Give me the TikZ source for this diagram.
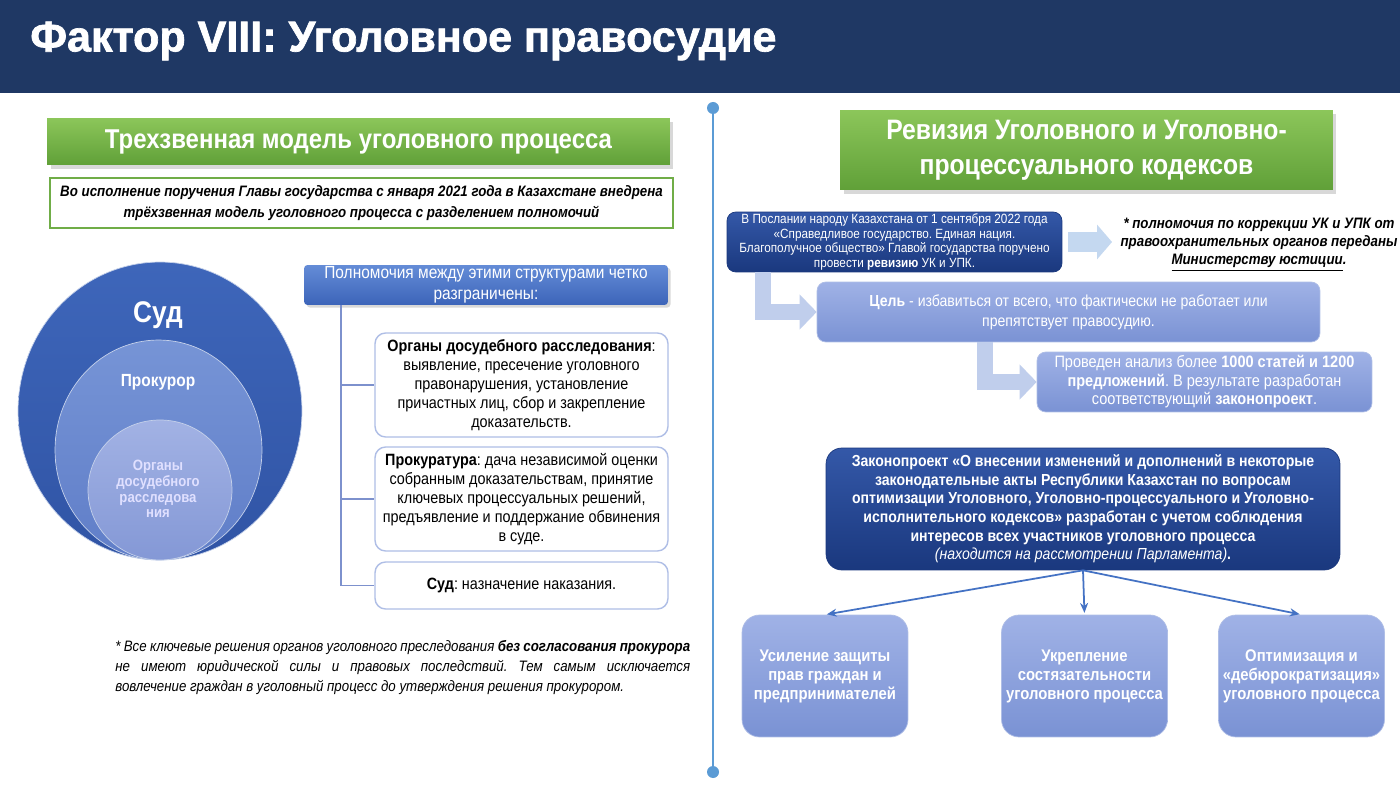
\documentclass[tikz,border=0pt]{standalone}
\usepackage{fontspec}
\setmainfont{Liberation Sans}[FakeStretch=0.88]
\newfontfamily\titlefont{Liberation Sans}[BoldFeatures={FakeBold=1.6}]
\usepackage{tikz}
\usetikzlibrary{shapes.geometric, arrows.meta, positioning, shadows, calc}
\definecolor{navyHead}{RGB}{31, 56, 100}
\definecolor{greenTop}{RGB}{140, 198, 90}
\definecolor{greenBot}{RGB}{96, 160, 56}
\definecolor{greenLine}{RGB}{112, 173, 71}
\definecolor{blueTop}{RGB}{100, 140, 215}
\definecolor{blueBot}{RGB}{60, 100, 185}
\definecolor{darkTop}{RGB}{52, 88, 168}
\definecolor{darkBot}{RGB}{26, 56, 126}
\definecolor{lavTop}{RGB}{160, 178, 230}
\definecolor{lavBot}{RGB}{122, 146, 212}
\definecolor{lavLine}{RGB}{175, 190, 230}
\definecolor{arrowLight}{RGB}{192, 206, 236}
\definecolor{skyLight}{RGB}{196, 216, 240}
\definecolor{linkBlue}{RGB}{68, 114, 196}
\definecolor{dividerBlue}{RGB}{91, 155, 213}
\definecolor{treeLine}{RGB}{125, 145, 205}
\definecolor{ringOut}{RGB}{62, 102, 186}
\definecolor{ringOutDk}{RGB}{48, 84, 165}
\definecolor{ringMid}{RGB}{118, 148, 214}
\definecolor{ringMidDk}{RGB}{96, 126, 200}
\definecolor{ringIn}{RGB}{162, 178, 228}
\definecolor{ringInDk}{RGB}{132, 152, 214}
\frenchspacing

\begin{document}
\begin{tikzpicture}[x=0.02cm, y=-0.02cm,
  banner/.style={rectangle, top color=greenTop, bottom color=greenBot,
    text=white, align=center, inner sep=0pt,
    drop shadow={opacity=0.3, shadow xshift=2pt, shadow yshift=-2pt}},
  introbox/.style={rectangle, draw=greenLine, line width=0.8pt, fill=white,
    align=center, inner sep=0pt, minimum width=12.46cm, minimum height=1cm,
    font=\bfseries\itshape\fontsize{8.6}{11.8}\selectfont},
  ring/.style={ellipse, inner sep=0pt, draw=white!70!ringOut, line width=0.4pt},
  ringlbl/.style={text=white, align=center, inner sep=0pt},
  powbox/.style={rectangle, rounded corners=2pt, top color=blueTop,
    bottom color=blueBot, text=white, align=center, inner sep=0pt,
    font=\fontsize{10}{11.9}\selectfont,
    drop shadow={opacity=0.3, shadow xshift=1.5pt, shadow yshift=-1.5pt}},
  item/.style={rectangle, rounded corners=6pt, draw=lavLine, line width=0.8pt,
    fill=white, align=center, inner sep=0pt, minimum width=5.86cm,
    font=\fontsize{9.3}{10.8}\selectfont},
  tree/.style={draw=treeLine, line width=0.9pt},
  darkbox/.style={rectangle, top color=darkTop, bottom color=darkBot,
    draw=darkBot, text=white, align=center, inner sep=0pt},
  lavbox/.style={rectangle, top color=lavTop, bottom color=lavBot,
    draw=lavLine, text=white, align=center, inner sep=0pt},
  aim/.style={lavbox, rounded corners=10pt, minimum width=3.32cm,
    minimum height=2.44cm, font=\bfseries\fontsize{9.6}{10.8}\selectfont},
  elbow/.style={draw=arrowLight, line width=0.32cm,
    -{Triangle[length=0.34cm, width=0.68cm]}},
  pass/.style={draw=skyLight, line width=0.4cm, shorten <=0.12cm,
    -{Triangle[length=0.3cm, width=0.68cm]}},
  link/.style={draw=linkBlue, line width=1pt, shorten >=1pt,
    -{Stealth[length=2mm, width=1.6mm]}},
  dot/.style={circle, fill=dividerBlue, inner sep=0pt, minimum size=0.24cm},
]
\useasboundingbox (0,0) rectangle (1400,787);
\fill[white] (0,0) rectangle (1400,787);

% header
\fill[navyHead] (0,0) rectangle (1400,93);
\node[anchor=west, text=white, inner sep=0pt,
  font=\titlefont\bfseries\fontsize{24.5}{27}\selectfont] (title) at (30,41)
  {Фактор VIII: Уголовное правосудие};

% divider
\node[dot] (divTop) at (713,108) {};
\node[dot] (divBot) at (713,772) {};
\draw[dividerBlue, line width=1.4pt] (divTop) -- (divBot);

% left column
\node[banner, minimum width=12.46cm, minimum height=0.94cm,
  font=\bfseries\fontsize{15.5}{19}\selectfont] (leftBar) at (358.5,141.5)
  {Трехзвенная модель уголовного процесса};
\node[introbox] (intro) at (361.5,203)
  {Во исполнение поручения Главы государства с января 2021 года в Казахстане внедрена\\
   трёхзвенная модель уголовного процесса с разделением полномочий};

\node[ring, minimum width=5.68cm, minimum height=5.96cm,
  top color=ringOut, bottom color=ringOutDk] (court) at (160,411) {};
\node[ring, minimum width=4.14cm, minimum height=4.4cm,
  top color=ringMid, bottom color=ringMidDk] (prosecutor) at (158.5,450) {};
\node[ring, minimum width=2.88cm, minimum height=2.8cm,
  top color=ringIn, bottom color=ringInDk] (bodies) at (160,490) {};
\node[ringlbl, font=\bfseries\fontsize{17}{20}\selectfont] (courtLbl) at (158,315) {Суд};
\node[ringlbl, font=\bfseries\fontsize{10}{12}\selectfont] (prosLbl) at (158,382) {Прокурор};
\node[ringlbl, text=white!88!blue, font=\bfseries\fontsize{8.5}{9}\selectfont]
  (bodiesLbl) at (158,489) {Органы\\досудебного\\расследова\\ния};

\node[powbox, minimum width=7.28cm, minimum height=0.8cm] (powers) at (486,285)
  {Полномочия между этими структурами четко\\разграничены:};
\node[item, minimum height=2.08cm] (inv) at (521.5,385)
  {\textbf{Органы досудебного расследования}:\\выявление, пресечение уголовного\\
   правонарушения, установление\\причастных лиц, сбор и закрепление\\доказательств.};
\node[item, minimum height=2.08cm] (pros) at (521.5,499)
  {\textbf{Прокуратура}: дача независимой оценки\\собранным доказательствам, принятие\\
   ключевых процессуальных решений,\\предъявление и поддержание обвинения\\в суде.};
\node[item, minimum height=0.94cm] (judge) at (521.5,585.5)
  {\textbf{Суд}: назначение наказания.};

\coordinate (trunk) at (341,0);
\draw[tree] (powers.south -| trunk) |- (judge.west);
\draw[tree] (trunk |- inv.west) -- (inv.west);
\draw[tree] (trunk |- pros.west) -- (pros.west);

\node[anchor=north west, inner sep=0pt, text width=11.5cm, align=justify,
  font=\itshape\fontsize{8.6}{11.3}\selectfont] (noteLeft) at (115,640)
  {* Все ключевые решения органов уголовного преследования \textbf{без согласования прокурора}\linebreak
   не имеют юридической силы и правовых последствий. Тем самым исключается\linebreak
   вовлечение граждан в уголовный процесс до утверждения решения прокурором.};

% right column
\node[banner, minimum width=9.86cm, minimum height=1.6cm,
  font=\bfseries\fontsize{16}{19.8}\selectfont] (rightBar) at (1086.5,150)
  {Ревизия Уголовного и Уголовно-\\процессуального кодексов};

\node[darkbox, rounded corners=5pt, minimum width=6.7cm, minimum height=1.2cm,
  font=\fontsize{7.6}{8.3}\selectfont] (message) at (894.5,242)
  {В Послании народу Казахстана от 1 сентября 2022 года\\
   «Справедливое государство. Единая нация.\\
   Благополучное общество» Главой государства поручено\\
   провести \textbf{ревизию} УК и УПК.};
\node[align=center, inner sep=0pt,
  font=\bfseries\itshape\fontsize{8.6}{10.2}\selectfont] (transfer) at (1259,245)
  {* полномочия по коррекции УК и УПК от\\правоохранительных органов переданы\\
   \underline{Министерству юстиции}.};
\coordinate (handTip) at (1112,242);
\draw[pass] (message.east) -- (handTip);

\node[lavbox, rounded corners=5pt, minimum width=10.06cm, minimum height=1.2cm,
  font=\fontsize{9.1}{11.3}\selectfont] (goal) at (1068.5,312)
  {\textbf{Цель} - избавиться от всего, что фактически не работает или\\
   препятствует правосудию.};
\node[lavbox, rounded corners=5pt, minimum width=6.7cm, minimum height=1.2cm,
  font=\fontsize{9.4}{10.5}\selectfont] (analysis) at (1204.5,382)
  {Проведен анализ более \textbf{1000 статей и 1200}\\
   \textbf{предложений}. В результате разработан\\
   соответствующий \textbf{законопроект}.};

\draw[elbow] ($(message.south west)+(36,0)$) |- (goal.west);
\draw[elbow] ($(goal.south west)+(168,0)$) |- (analysis.west);

\node[darkbox, rounded corners=9pt, minimum width=10.28cm, minimum height=2.44cm,
  font=\bfseries\fontsize{9.1}{10.6}\selectfont] (bill) at (1083,509)
  {Законопроект «О внесении изменений и дополнений в некоторые\\
   законодательные акты Республики Казахстан по вопросам\\
   оптимизации Уголовного, Уголовно-процессуального и Уголовно-\\
   исполнительного кодексов» разработан с учетом соблюдения\\
   интересов всех участников уголовного процесса\\
   {\mdseries\itshape (находится на рассмотрении Парламента)}.};

\node[aim] (rights) at (825,676) {Усиление защиты\\прав граждан и\\предпринимателей};
\node[aim] (contest) at (1084.5,676) {Укрепление\\состязательности\\уголовного процесса};
\node[aim] (debureau) at (1301.5,676) {Оптимизация и\\«дебюрократизация»\\уголовного процесса};

\foreach \t in {rights, contest, debureau}
  \draw[link] (bill.south) -- (\t.north);
\end{tikzpicture}
\end{document}
